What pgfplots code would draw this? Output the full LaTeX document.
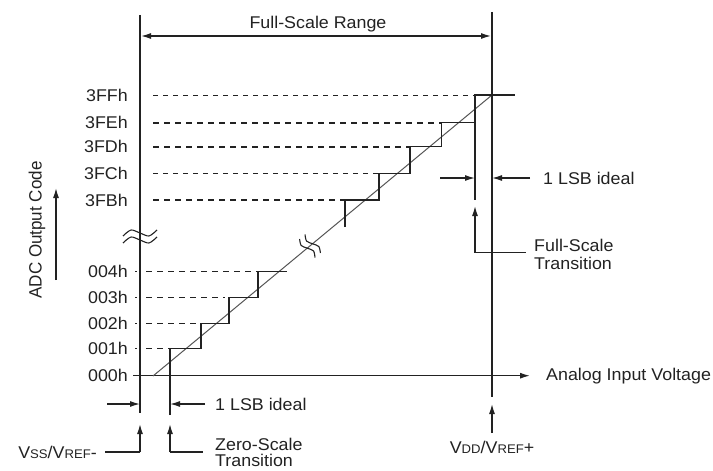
\documentclass[border=0pt]{standalone}
\usepackage{pgfplots}
\pgfplotsset{compat=1.18}
\usepackage{fontspec}
\setmainfont{Liberation Sans}
\usetikzlibrary{arrows.meta}
\definecolor{ink}{HTML}{222222}
\definecolor{diag}{HTML}{555555}
\newcommand{\fs}{\fontsize{17bp}{20bp}\selectfont}
\newcommand{\smc}{\fontsize{12.5bp}{14bp}\selectfont}
\begin{document}
\begin{tikzpicture}[
  ln/.style={ink, solid, line width=1.3bp},
  arr/.style={ln, -{Latex[length=10bp,width=6bp]}},
  t/.style={font=\fs, text=ink, inner sep=0pt, xscale=1.05}]
\begin{axis}[name=ax, width=713bp, height=471bp, scale only axis,
  xmin=0, xmax=713, ymin=0, ymax=471, y dir=reverse, hide axis, clip=false,
  cycle list={{ink,solid,no marks,line width=1.3bp}}]
% main frame lines
\addplot[ln, no marks] coordinates {(140,15)(140,413)};
\addplot[ln, no marks] coordinates {(492,12)(492,397)};
\addplot[arr, no marks] coordinates {(133,375.7)(530,375.7)};
% full-scale range
\addplot[ln, no marks, {Latex[length=10bp,width=6bp]}-{Latex[length=10bp,width=6bp]}] coordinates {(141,36)(491,36)};
\node[t] at (axis cs:318,24) {Full-Scale Range};
% dashed code levels (top)
\addplot[ln, no marks, line width=0.9bp, dash pattern=on 5bp off 5bp] coordinates {(153,95)(475,95)};
\addplot[ln, no marks, line width=1.6bp, dash pattern=on 6bp off 5bp] coordinates {(153,122.7)(441.7,122.7)};
\addplot[ln, no marks, line width=1.6bp, dash pattern=on 6bp off 5bp] coordinates {(153,146.7)(410,146.7)};
\addplot[ln, no marks, line width=0.9bp, dash pattern=on 5bp off 5bp] coordinates {(153,173.3)(379,173.3)};
\addplot[ln, no marks, line width=1.6bp, dash pattern=on 6bp off 5bp] coordinates {(153,200)(345,200)};
% dashed code levels (bottom), with the small leading dot
\addplot[ln, no marks, line width=1bp, dash pattern=on 2bp off 9bp on 6bp off 5bp on 6bp off 5bp on 6bp off 5bp on 6bp off 5bp on 6bp off 5bp on 6bp off 5bp on 6bp off 5bp on 6bp off 5bp on 6bp off 5bp on 6bp off 5bp] coordinates {(135,271.7)(258,271.7)};
\addplot[ln, no marks, line width=1bp, dash pattern=on 2bp off 9bp on 6bp off 5bp on 6bp off 5bp on 6bp off 5bp on 6bp off 5bp on 6bp off 5bp on 6bp off 5bp on 6bp off 5bp] coordinates {(135,297.7)(229,297.7)};
\addplot[ln, no marks, line width=1bp, dash pattern=on 2bp off 9bp on 6bp off 5bp on 6bp off 5bp on 6bp off 5bp on 6bp off 5bp on 6bp off 5bp] coordinates {(135,323.3)(201,323.3)};
\addplot[ln, no marks, line width=1bp, dash pattern=on 2bp off 9bp on 6bp off 5bp on 6bp off 5bp] coordinates {(135,348.3)(170,348.3)};
% ideal transfer line
\addplot[ln, no marks, diag, line width=1bp] coordinates {(153,376)(492,95)};
% staircases
\addplot[ln, no marks] coordinates {(170,415)(170,348.3)(201,348.3)(201,323.3)(229,323.3)(229,297.7)(258,297.7)(258,271.7)(287,271.7)};
\addplot[ln, no marks] coordinates {(345,227)(345,200)(379,200)(379,173.3)(410,173.3)(410,146.7)(441.7,146.7)(441.7,122.7)(475,122.7)(475,95)(515,95)};
\addplot[ln, no marks] coordinates {(475,122.7)(475,200)};
% breaks
\addplot[ln, no marks, smooth, line width=1.1bp] coordinates {(123,236)(131,230)(140,233)(149,236)(157,230)};
\addplot[ln, no marks, smooth, line width=1.1bp] coordinates {(123,243)(131,237)(140,240)(149,243)(157,237)};
\addplot[ln, no marks, smooth, line width=1.1bp] coordinates {(299.6,239.0)(301.2,245.5)(307.3,248.2)(313.5,250.9)(315.0,257.5)};
\addplot[ln, no marks, smooth, line width=1.1bp] coordinates {(305.0,234.5)(306.6,241.1)(312.7,243.8)(318.8,246.5)(320.4,253.0)};
% code labels
\node[t, anchor=east] at (axis cs:128,95) {3FFh};
\node[t, anchor=east] at (axis cs:128,122.7) {3FEh};
\node[t, anchor=east] at (axis cs:128,146.7) {3FDh};
\node[t, anchor=east] at (axis cs:128,173.3) {3FCh};
\node[t, anchor=east] at (axis cs:128,200) {3FBh};
\node[t, anchor=east] at (axis cs:128,271.7) {004h};
\node[t, anchor=east] at (axis cs:128,297.7) {003h};
\node[t, anchor=east] at (axis cs:128,323.3) {002h};
\node[t, anchor=east] at (axis cs:128,348.3) {001h};
\node[t, anchor=east] at (axis cs:128,375.7) {000h};
% y label
\node[t, rotate=90] at (axis cs:37,230) {ADC Output Code};
\addplot[arr, no marks] coordinates {(56,280)(56,188)};
% x label
\node[t, anchor=west] at (axis cs:546,375.7) {Analog Input Voltage};
% top 1 LSB
\addplot[arr, no marks] coordinates {(440,178)(475,178)};
\addplot[arr, no marks] coordinates {(530,178)(492,178)};
\node[t, anchor=west] at (axis cs:543,178) {1 LSB ideal};
% full-scale transition
\addplot[arr, no marks] coordinates {(475,252.7)(475,206)};
\addplot[ln, no marks] coordinates {(475,252.7)(526,252.7)};
\node[t, anchor=west, align=left, font=\fontsize{17bp}{18bp}\selectfont] at (axis cs:534,254) {Full-Scale\\Transition};
% bottom 1 LSB
\addplot[arr, no marks] coordinates {(107,404)(140,404)};
\addplot[arr, no marks] coordinates {(205,404)(170,404)};
\node[t, anchor=west] at (axis cs:215,404) {1 LSB ideal};
% Vss / Vref-
\addplot[arr, no marks] coordinates {(140,452)(140,424)};
\addplot[ln, no marks] coordinates {(140,452)(105,452)};
\node[t, anchor=east] at (axis cs:97,452) {V{\smc SS}/V{\smc REF}-};
% zero-scale transition
\addplot[arr, no marks] coordinates {(170,452)(170,424)};
\addplot[ln, no marks] coordinates {(170,452)(203,452)};
\node[t, anchor=west, align=left, font=\fontsize{17bp}{16bp}\selectfont] at (axis cs:215,452.5) {Zero-Scale\\Transition};
% Vdd / Vref+
\addplot[arr, no marks] coordinates {(492,433)(492,404)};
\node[t] at (axis cs:492,447) {V{\smc DD}/V{\smc REF}+};
\end{axis}
\pgfresetboundingbox
\path (ax.south west) rectangle (ax.north east);
\end{tikzpicture}
\end{document}
